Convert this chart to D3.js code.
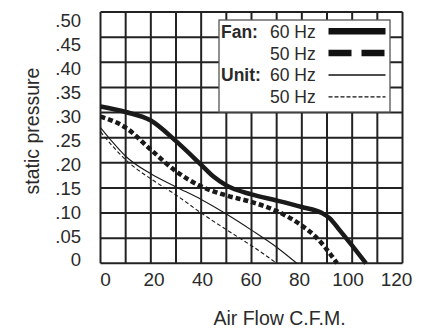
<!DOCTYPE html>
<html><head><meta charset="utf-8">
<script src="https://cdn.jsdelivr.net/npm/d3@7"></script>
<style>
body{margin:0;background:#fff;}
svg{display:block;font-family:"Liberation Sans",Arial,Helvetica,sans-serif;}
</style></head>
<body><svg id="c" width="422" height="331"></svg>
<script>
// ---- data ----
const xTicks = [0, 20, 40, 60, 80, 100, 120];
const yTicks = [0, 0.05, 0.10, 0.15, 0.20, 0.25, 0.30, 0.35, 0.40, 0.45, 0.50];
const yTickLabels = ["0", ".05", ".10", ".15", ".20", ".25", ".30", ".35", ".40", ".45", ".50"];
const xGrid = [0,10,20,30,40,50,60,70,80,90,100,110,120];

const fan60 = [[0,.312],[10,.301],[20,.284],[30,.243],[40,.196],[45,.172],[50,.155],[60,.137],[70,.125],[80,.112],[88,.100],[91,.090],[95,.066],[100,.035],[105.5,0]];
const fan50 = [[0,.292],[10,.270],[20,.226],[30,.183],[40,.153],[50,.135],[60,.122],[70,.104],[80,.075],[85,.055],[90,.027],[94,0]];
const unit60 = [[0,.270],[5,.240],[10,.213],[20,.178],[30,.152],[40,.127],[50,.098],[60,.066],[70,.032],[78,0]];
const unit50 = [[0,.262],[5,.232],[10,.206],[20,.168],[30,.136],[40,.100],[50,.067],[60,.035],[65,.018],[70,0]];

const legendGroups = ["Fan:", "", "Unit:", ""];
const legendLabels = ["60 Hz", "50 Hz", "60 Hz", "50 Hz"];

// ---- layout ----
const svg = d3.select("#c");
const L = 100.5, R = 402.5, T = 12, B = 263.3;
const x = d3.scaleLinear().domain([0,120]).range([L,R]);
const y = d3.scaleLinear().domain([0,0.5]).range([B,T]);
// tick labels are spaced slightly differently from the grid in the original
const xLab = d3.scaleLinear().domain([0,120]).range([105,396]);
const yLab = d3.scaleLinear().domain([0,0.5]).range([259.5,20]);
const ink = "#2a2a2a";

// grid
const g = svg.append("g");
g.selectAll("line.v").data(xGrid).join("line")
  .attr("x1", d=>x(d)).attr("x2", d=>x(d)).attr("y1", T).attr("y2", B)
  .attr("stroke", "#222").attr("stroke-width", 2);
g.selectAll("line.h").data(yTicks).join("line")
  .attr("x1", L).attr("x2", R).attr("y1", d=>y(d)).attr("y2", d=>y(d))
  .attr("stroke", "#222").attr("stroke-width", 2);

// axes labels via d3 axes
const ax = svg.append("g").attr("transform", `translate(0,${B})`)
  .call(d3.axisBottom(xLab).tickValues(xTicks).tickSize(0).tickPadding(0).tickFormat(d3.format("d")));
ax.select(".domain").remove();
ax.selectAll("text").attr("y", 23).attr("dy", 0).attr("font-size", 19).attr("fill", ink)
  .attr("font-family", "Liberation Sans, Arial, sans-serif");

const ay = svg.append("g").attr("transform", `translate(81,0)`)
  .call(d3.axisLeft(yLab).tickValues(yTicks).tickSize(0).tickPadding(0)
    .tickFormat((d,i)=>yTickLabels[i]));
ay.select(".domain").remove();
ay.selectAll("text").attr("x", 0).attr("dy", "0.35em").attr("font-size", 18.5).attr("fill", ink)
  .attr("font-family", "Liberation Sans, Arial, sans-serif");

// titles
svg.append("text").attr("x", 279.5).attr("y", 324.5).attr("text-anchor", "middle")
  .attr("font-size", 19.5).attr("fill", ink).text("Air Flow C.F.M.");
svg.append("text").attr("transform", "translate(39,131) rotate(-90)").attr("text-anchor", "middle")
  .attr("font-size", 19.5).attr("fill", ink).text("static pressure");

// curves
const line = d3.line().x(d=>x(d[0])).y(d=>y(d[1])).curve(d3.curveMonotoneX);
const series = [
  {data: unit50, w: 1.1, dash: "4,2.5"},
  {data: unit60, w: 1.1, dash: null},
  {data: fan50, w: 4.5, dash: "5,3"},
  {data: fan60, w: 4.5, dash: null}
];
svg.selectAll("path.s").data(series).join("path")
  .attr("d", d=>line(d.data)).attr("fill", "none").attr("stroke", "#1a1a1a")
  .attr("stroke-width", d=>d.w).attr("stroke-dasharray", d=>d.dash);

// legend
const lg = svg.append("g");
lg.append("rect").attr("x", 219).attr("y", 20).attr("width", 171).attr("height", 92)
  .attr("fill", "#fff").attr("stroke", "#555").attr("stroke-width", 1.3);
const rows = d3.range(4);
const lsty = [{w:6.5,dash:null},{w:6.5,dash:"23,10"},{w:1.6,dash:null},{w:1.3,dash:"4,2"}];
const rowY = d3.scaleLinear().domain([0,3]).range([37.7,103.3]);
lg.selectAll("text.g").data(rows).join("text")
  .attr("x", 221).attr("y", i=>rowY(i)).attr("font-size", 17.5).attr("font-weight", "bold")
  .attr("fill", ink).text(i=>legendGroups[i]);
lg.selectAll("text.l").data(rows).join("text")
  .attr("x", 270).attr("y", i=>rowY(i)).attr("font-size", 17.5)
  .attr("fill", ink).text(i=>legendLabels[i]);
lg.selectAll("line.l").data(rows).join("line")
  .attr("x1", 328.5).attr("x2", 385.5)
  .attr("y1", i=>rowY(i)-6.5).attr("y2", i=>rowY(i)-6.5)
  .attr("stroke", "#111").attr("stroke-width", i=>lsty[i].w).attr("stroke-dasharray", i=>lsty[i].dash);
</script></body></html>
